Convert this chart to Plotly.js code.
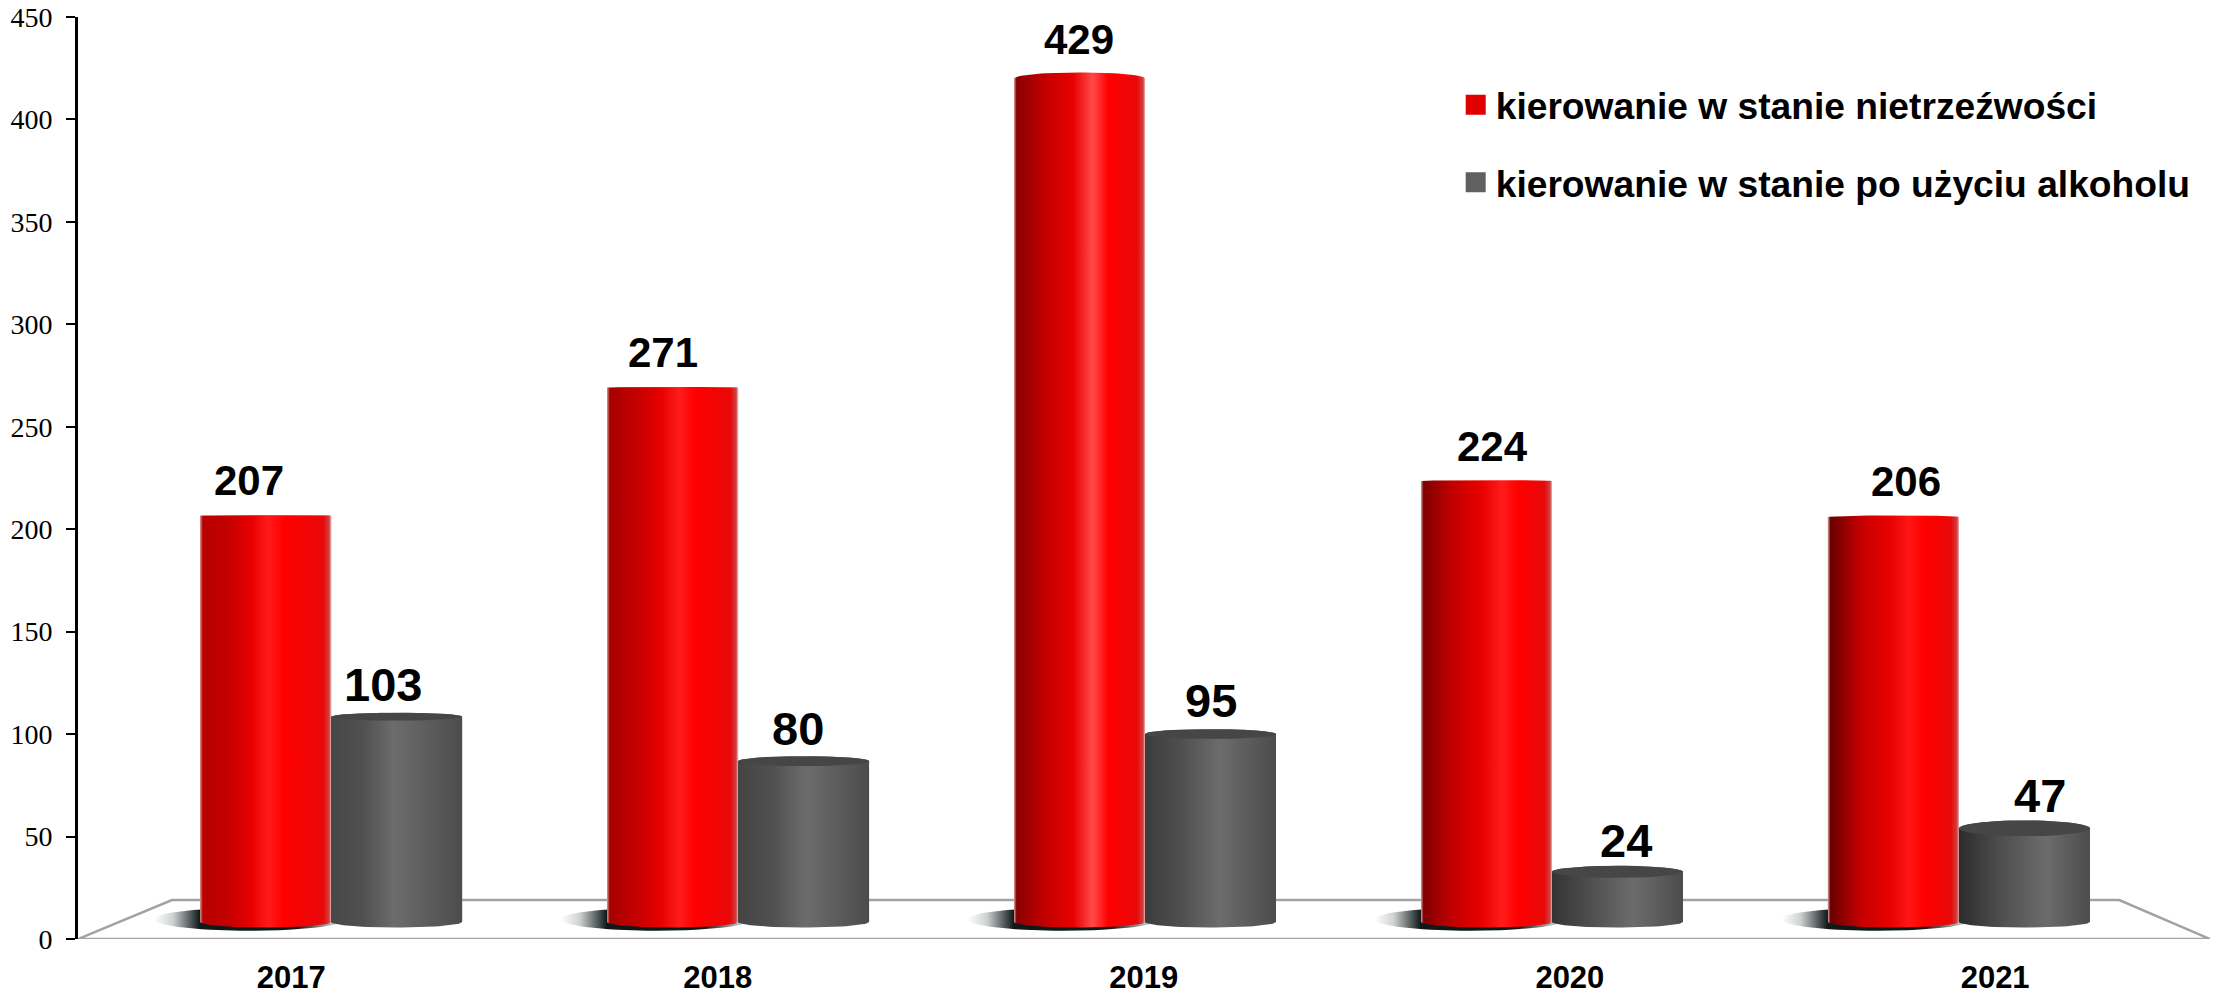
<!DOCTYPE html>
<html><head><meta charset="utf-8">
<script src="https://cdn.plot.ly/plotly-3.0.1.min.js"></script>
<style>html,body{margin:0;padding:0;background:#fff}#c{width:2225px;height:995px}</style>
</head><body><div id="c"></div>
<script>
// ---- data ----
const years = ['2017','2018','2019','2020','2021'];
const nameRed = 'kierowanie w stanie nietrzeźwości';
const nameGrey = 'kierowanie w stanie po użyciu alkoholu';
const labelsRed = [207,271,429,224,206];   // printed values
const labelsGrey = [103,80,95,24,47];
const topsRed = [206.6,269,420,223.5,206]; // bar tops as drawn against the axis
const topsGrey = [108.5,86.8,100,32.8,54];
const yTicks = [0,50,100,150,200,250,300,350,400,450];

// ---- geometry / style ----
const PXY = 922/450;            // px per y unit
const GROUP_PX = 407;
const base = 8.3;               // the cylinders stand on the floor
const halfW = 65.5/GROUP_PX;
const yearTicks = [-0.098,0.95,1.997,3.044,4.089];
const riseRed = [0.5,1,6,1,1.5], riseGrey = [4,5,5,6,8];
const darkRed = ['#b80000','#a80000','#8a0000','#800000','#6a0000'];
const hiRed = ['#ff1a1a','#ff1c1c','#ff4a4a','#ff1c1c','#ff1616'];
const hiPosRed = [0.52,0.55,0.6,0.62,0.62], hiPosGrey = [0.48,0.52,0.57,0.62,0.67];
const darkGrey = ['#474747','#444444','#3c3c3c','#343434','#2c2c2c'];
const shiftRed = [-17,-10,-1,6,13], shiftGrey = [-14,-6,0,9,16];
const liftRed = [35,35,39,35,35], liftGrey = [32,33,34,31,33];
const floorColor = '#a2a2a2';

function arc(cx, cy, ry, a0, a1){
  const xs=[],ys=[];
  for(let k=0;k<=40;k++){const a=a0+(a1-a0)*k/40;
    xs.push(cx+halfW*Math.cos(a)); ys.push(cy+ry*Math.sin(a));}
  return [xs,ys];
}
function cylinder(cx, top, rise, scale){
  const [bx,by]=arc(cx,base,5.5/PXY,Math.PI,2*Math.PI);     // front bottom
  const [tx,ty]=arc(cx,top,rise/PXY,0,Math.PI);             // rear top
  return {x:[...bx,...tx,bx[0]],y:[...by,...ty,by[0]],type:'scatter',mode:'lines',
    line:{width:0},fill:'toself',showlegend:false,hoverinfo:'skip',
    fillgradient:{type:'horizontal',start:cx-halfW,stop:cx+halfW,colorscale:scale}};
}
const traces=[];
// plain bars (under the shaded cylinders)
traces.push({type:'bar',x:years.map((_,i)=>i-halfW),y:topsRed.map(v=>v-base),base:base,width:2*halfW,
  marker:{color:'#e00000'},name:nameRed,showlegend:false,hoverinfo:'skip'});
traces.push({type:'bar',x:years.map((_,i)=>i+halfW),y:topsGrey.map(v=>v-base),base:base,width:2*halfW,
  marker:{color:'#555555'},name:nameGrey,showlegend:false,hoverinfo:'skip'});
// floor
const xL=-0.622,xR=4.617;
traces.push({type:'scatter',mode:'lines',x:[xL,-0.391,4.394,xR,xL],y:[0,19,19,0,0],
  line:{color:floorColor,width:2.5},showlegend:false,hoverinfo:'skip'});
// shadows
years.forEach((_,i)=>{
  const cx=i-0.2, rx=0.236, cy=9.6, ry=5.6, xs=[],ys=[];
  for(let k=0;k<=60;k++){const a=2*Math.PI*k/60;xs.push(cx+rx*Math.cos(a));ys.push(cy+ry*Math.sin(a));}
  traces.push({type:'scatter',mode:'lines',x:xs,y:ys,line:{width:0},fill:'toself',showlegend:false,hoverinfo:'skip',
    fillgradient:{type:'horizontal',start:cx-rx,stop:cx+rx,colorscale:[[0,'rgba(20,30,30,0)'],[0.1,'rgba(20,30,30,0.2)'],[0.24,'rgba(15,25,25,1)'],[0.75,'rgba(15,25,25,1)'],[1,'rgba(15,25,25,0)']]}});
});
// cylinders
years.forEach((_,i)=>{
  const h=hiPosRed[i];
  traces.push(cylinder(i-halfW,topsRed[i],riseRed[i],[[0,'#d8a0a0'],[0.02,darkRed[i]],[h*0.4,'#c40000'],[h*0.75,'#e80000'],[h,hiRed[i]],[h+0.12,'#ff0000'],[0.94,'#e80808'],[0.985,'#d04040'],[1,'#e8b8b8']]));
});
years.forEach((_,i)=>{
  const cx=i+halfW, h=hiPosGrey[i];
  traces.push(cylinder(cx,topsGrey[i],riseGrey[i],[[0,darkGrey[i]],[h*0.5,'#505050'],[h,'#6c6c6c'],[(h+1)/2,'#5c5c5c'],[1,'#4c4c4c']]));
  const [ax,ay]=arc(cx,topsGrey[i],riseGrey[i]/PXY,0,2*Math.PI);
  traces.push({type:'scatter',mode:'lines',x:ax,y:ay,line:{width:0},fill:'toself',fillcolor:'#464646',showlegend:false,hoverinfo:'skip'});
});
// legend entries
traces.push({type:'scatter',mode:'markers',x:[null],y:[null],name:nameRed,legendgroup:'a',
  marker:{symbol:'square',size:16,color:'#e00000',line:{color:'#e00000',width:4}}});
traces.push({type:'scatter',mode:'markers',x:[null],y:[null],name:nameGrey,legendgroup:'b',
  marker:{symbol:'square',size:16,color:'#606060',line:{color:'#606060',width:4}}});

const anns=[];
function lab(x,rim,txt,xs,ys,size){
  anns.push({x:x,y:rim,xref:'x',yref:'y',text:'<b>'+txt+'</b>',showarrow:false,
    xanchor:'center',yanchor:'middle',xshift:xs,yshift:ys,
    font:{family:'"Liberation Sans",Arial,sans-serif',size:size,color:'#000'}});
}
years.forEach((_,i)=>{
  lab(i-halfW,topsRed[i],labelsRed[i],shiftRed[i],liftRed[i],42);
  lab(i+halfW,topsGrey[i],labelsGrey[i],shiftGrey[i],liftGrey[i],47);
});

const layout={
  width:2225,height:995,paper_bgcolor:'#fff',plot_bgcolor:'#fff',
  margin:{l:78,r:15,t:17,b:56,pad:0},
  barmode:'overlay',hovermode:false,
  xaxis:{type:'linear',range:[xL,xR],tickmode:'array',tickvals:yearTicks,ticktext:years.map(y=>'<b>'+y+'</b>'),
    showgrid:false,zeroline:false,showline:false,ticks:'',ticklabelstandoff:17,
    tickfont:{family:'"Liberation Sans",Arial,sans-serif',size:31,color:'#000'}},
  yaxis:{range:[0,450],tickmode:'array',tickvals:yTicks,showgrid:false,zeroline:false,
    showline:true,linecolor:'#000',linewidth:3,ticks:'outside',ticklen:9,tickwidth:2,tickcolor:'#000',
    ticklabelstandoff:8,tickfont:{family:'"Liberation Serif","Times New Roman",serif',size:28,color:'#000'}},
  showlegend:true,
  legend:{x:0.6462,y:0.938,xanchor:'left',yanchor:'top',bgcolor:'rgba(0,0,0,0)',tracegroupgap:26,
    font:{family:'"Liberation Sans",Arial,sans-serif',size:37.2,color:'#000',weight:700},itemsizing:'trace',itemwidth:30},
  annotations:anns
};
Plotly.newPlot('c',traces,layout,{displayModeBar:false,staticPlot:true});
</script></body></html>
